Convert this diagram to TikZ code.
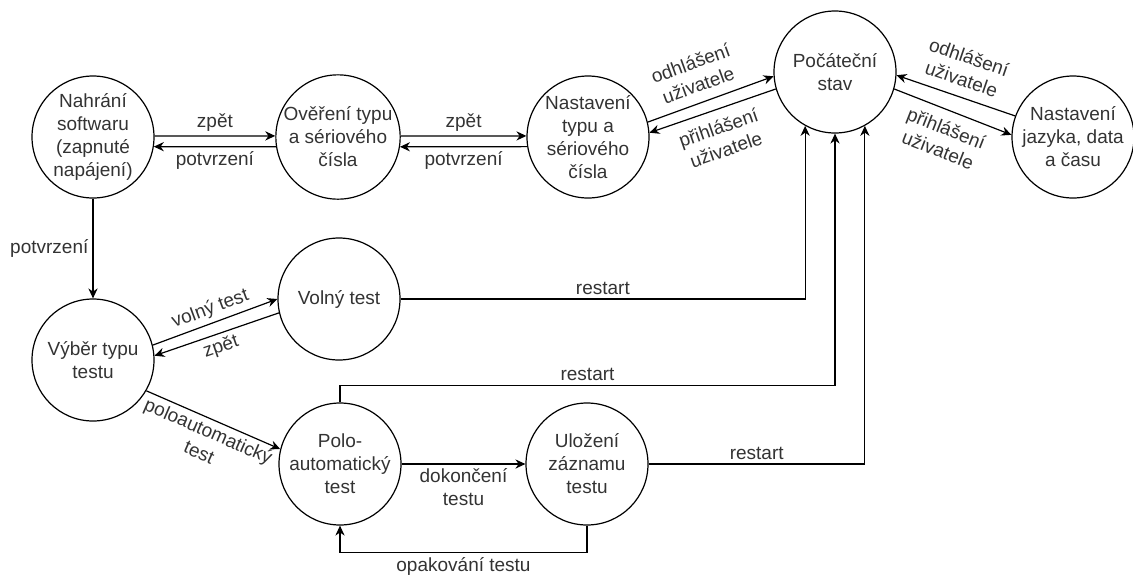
\documentclass[tikz,border=0pt]{standalone}
\usepackage{fontspec}
\setmainfont{Liberation Sans}
\usetikzlibrary{arrows.meta,positioning}
\definecolor{txt}{RGB}{51,51,51}
\tikzstyle{state} = [circle, draw, minimum size=61pt, inner sep=0pt, align=center, text=txt, font=\fontsize{9.5}{11.5}\selectfont]
\tikzstyle{link} = [->, draw]
\tikzstyle{lbl} = [text=txt, align=center, inner sep=2pt, font=\fontsize{9.5}{11.5}\selectfont]

\begin{document}
\begin{tikzpicture}[x=0.5pt, y=-0.5pt, line width=0.6pt, >={Stealth[length=5pt,width=4.6pt]}]
    \useasboundingbox (0,0) rectangle (1133,574);
    \node[state] (nahrani) at (93,137) {Nahrání\\softwaru\\(zapnuté\\napájení)};
    \node[state] (overeni) at (338,137) {Ověření typu\\a sériového\\čísla};
    \node[state] (nastaveni) at (588,137) {Nastavení\\typu a\\sériového\\čísla};
    \node[state] (pocatecni) at (835,72) {Počáteční\\stav};
    \node[state] (jazyk) at (1073,137) {Nastavení\\jazyka, data\\a času};
    \node[state] (volny) at (339,299) {Volný test};
    \node[state] (vyber) at (93,360) {Výběr typu\\testu};
    \node[state] (polo) at (340,464) {Polo-\\automatický\\test};
    \node[state] (ulozeni) at (587,464) {Uložení\\záznamu\\testu};

    \draw[link] (nahrani.1) -- node[lbl, above] {zpět} (overeni.179);
    \draw[link] (overeni.-171) -- node[lbl, below] {potvrzení} (nahrani.-9);
    \draw[link] (overeni.1) -- node[lbl, above] {zpět} (nastaveni.179);
    \draw[link] (nastaveni.-171) -- node[lbl, below] {potvrzení} (overeni.-9);

    \draw[link] (nastaveni.14) -- node[lbl, above=3pt, sloped, pos=0.45] {odhlášení\\uživatele} (pocatecni.-176);
    \draw[link] (pocatecni.-164) -- node[lbl, below=3pt, sloped] {přihlášení\\uživatele} (nastaveni.4);
    \draw[link] (jazyk.160) -- node[lbl, above=3pt, sloped] {odhlášení\\uživatele} (pocatecni.-3);
    \draw[link] (pocatecni.-16) -- node[lbl, below=3pt, sloped] {přihlášení\\uživatele} (jazyk.178);

    \draw[link] (nahrani) -- node[lbl, left] {potvrzení} (vyber);
    \draw[link] (vyber.14) -- node[lbl, above, sloped] {volný test} (volny.180);
    \draw[link] (volny.193) -- node[lbl, below, sloped] {zpět} (vyber.4);
    \draw[link] (vyber.-30) -- node[lbl, below, sloped] {poloautomatický\\test} (polo.166);

    \draw[link] (polo) -- node[lbl, below] {dokončení\\testu} (ulozeni);
    \draw[link] (ulozeni.south) -- ++(0,27) -| node[lbl, below, pos=0.25] {opakování testu} (polo.south);

    \draw[link] (volny.east) -| node[lbl, above, pos=0.25] {restart} (pocatecni.-119);
    \draw[link] (polo.north) -- ++(0,-17) -| node[lbl, above, pos=0.25] {restart} (pocatecni.south);
    \draw[link] (ulozeni.east) -| node[lbl, above, pos=0.25] {restart} (pocatecni.-61);
\end{tikzpicture}
\end{document}
